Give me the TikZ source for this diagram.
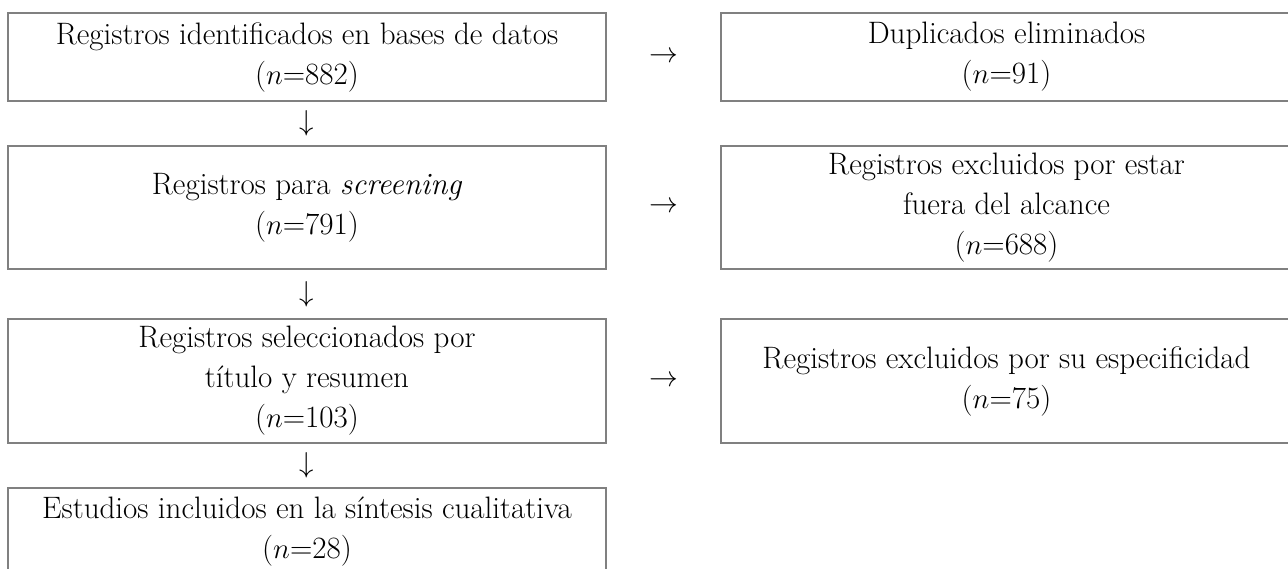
\documentclass[tikz,border=0pt]{standalone}
\usetikzlibrary{calc}
\begin{document}
\begin{tikzpicture}[x=0.5pt,y=-0.5pt,
  box/.style={draw=black!50, line width=0.75pt, align=center, inner sep=0pt,
    font=\fontsize{15.5}{20}\selectfont},
  lbox/.style={box, minimum width=299pt},
  rbox/.style={box, minimum width=285.5pt},
  glyph/.style={inner sep=0pt, font=\fontsize{14.4}{20}\selectfont}]
\useasboundingbox (0,0) rectangle (1288,568);
\node[lbox, minimum height=44pt] (l1) at (307,57) {Registros identificados en bases de datos\\($n$=882)};
\node[rbox, minimum height=44pt] (r1) at (1006.5,57) {Duplicados eliminados\\($n$=91)};
\node[lbox, minimum height=61.5pt] (l2) at (307,207.5) {Registros para \textit{screening}\\($n$=791)};
\node[rbox, minimum height=61.5pt] (r2) at (1006.5,207.5) {Registros excluidos por estar\\fuera del alcance\\($n$=688)};
\node[lbox, minimum height=62pt] (l3) at (307,381) {Registros seleccionados por\\título y resumen\\($n$=103)};
\node[rbox, minimum height=62pt] (r3) at (1006.5,381) {Registros excluidos por su especificidad\\($n$=75)};
\node[lbox, minimum height=44pt] (l4) at (307,532) {Estudios incluidos en la síntesis cualitativa\\($n$=28)};
\node[glyph] (h1) at ($(l1.east)!0.5!(r1.west)$) {$\rightarrow$};
\node[glyph] (h2) at ($(l2.east)!0.5!(r2.west)$) {$\rightarrow$};
\node[glyph] (h3) at ($(l3.east)!0.5!(r3.west)$) {$\rightarrow$};
\node[glyph] (v1) at ($(l1.south)!0.5!(l2.north)$) {$\downarrow$};
\node[glyph] (v2) at ($(l2.south)!0.5!(l3.north)$) {$\downarrow$};
\node[glyph] (v3) at ($(l3.south)!0.5!(l4.north)$) {$\downarrow$};
\end{tikzpicture}
\end{document}
